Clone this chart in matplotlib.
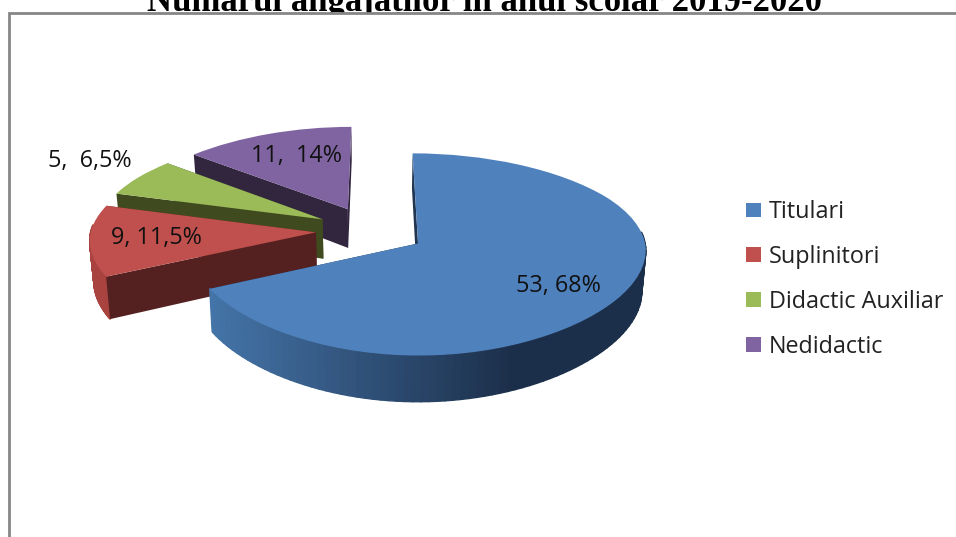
import numpy as np
import matplotlib
matplotlib.use("Agg")
import matplotlib.pyplot as plt
from matplotlib.collections import PolyCollection
from matplotlib.colors import to_rgb
from matplotlib.patches import Patch, Rectangle
from matplotlib.transforms import Transform

categories = ["Titulari", "Suplinitori", "Didactic Auxiliar", "Nedidactic"]
counts = [53, 9, 5, 11]
labels = ["53, 68%", "9, 11,5%", "5,  6,5%", "11,  14%"]
title = "Numărul angajaților în anul școlar 2019-2020"

colors = ["#4F81BD", "#C0504D", "#9BBB59", "#8064A2"]
cut_colors = ["#1f3550", "#552120", "#3F4A1F", "#32263F"]
rim_colors = ["#3F6A9C", "#A8433F", "#6E8A3A", "#5A4676"]
label_xy = [(558, 286), (156, 238), (90, 161), (297, 156)]

CX, CY = 371, 230.4
RX, RY, P = 225, 98.2, 0.112


def project(xy, depth=False):
    # unit pie coordinates -> image pixels, with the back of the pie squeezed
    x, y = xy[:, 0], xy[:, 1]
    px = CX + RX * x * (1 - 0.08 * y - 0.05 * y ** 2)
    py = CY - RY * y * (1 - P * y)
    if depth:
        px = CX + (px - CX) * 0.985
        py = py + 40 - 5.5 * y
    return np.column_stack([px, py])


class Tilt(Transform):
    input_dims = 2
    output_dims = 2

    def transform_non_affine(self, values):
        return project(np.asarray(values, dtype=float))


fig = plt.figure(figsize=(9.56, 5.37), dpi=100)
ax = fig.add_axes([0, 0, 1, 1])

wedges, _ = ax.pie(counts, colors=colors, explode=[0.245] * 4, startangle=90,
                   counterclock=False, wedgeprops={"linewidth": 0})
ax.set_aspect("auto")
ax.set_xlim(0, 956)
ax.set_ylim(537, 0)
ax.axis("off")

ax.text(484.5, 10, title, family="Liberation Serif", weight="bold", fontsize=25,
        ha="center", va="baseline", zorder=0, clip_on=False)
ax.add_patch(Rectangle((9, 12.5), 1000, 1000, facecolor="white", edgecolor="#868686",
                       linewidth=2, zorder=0.5))

tilt = Tilt()
for i, w in enumerate(wedges):
    z = 5 - i  # purple at the back, blue in front
    c = np.array(w.center)
    w.set_transform(tilt + ax.transData)
    w.set_zorder(z + 0.5)
    w.set_clip_on(False)

    # rim, one thin strip per step so the shading can vary
    th = np.radians(np.linspace(w.theta1, w.theta2, 121))
    edge = c + np.column_stack([np.cos(th), np.sin(th)])
    top = project(edge)
    bottom = project(edge, depth=True)
    polys, fills = [], []
    for k in range(len(th) - 1):
        if np.sin(th[k]) > 0.08:  # back of the pie, hidden anyway
            continue
        polys.append([top[k], top[k + 1], bottom[k + 1], bottom[k]])
        if i == 0:
            t = np.clip((top[k, 0] - 210) / 300, 0, 1)
            fills.append(tuple((1 - t) * np.array(to_rgb("#4474A8")) + t * np.array(to_rgb("#1C2F4A"))))
        else:
            fills.append(rim_colors[i])
    if polys:
        ax.add_collection(PolyCollection(polys, facecolors=fills, edgecolors=fills,
                                         linewidths=1.0, zorder=z + 0.2))

    # the two cut faces, blue's must stay under its rim
    for end in (0, -1):
        pts = np.array([c, edge[end]])
        a, b = project(pts), project(pts, depth=True)
        ax.fill([a[0, 0], a[1, 0], b[1, 0], b[0, 0]], [a[0, 1], a[1, 1], b[1, 1], b[0, 1]],
                color=cut_colors[i], lw=0, zorder=z if i == 0 else z + 0.3)

for text, (x, y) in zip(labels, label_xy):
    ax.text(x, y, text, family="Open Sans", fontsize=16.8, color="#111111",
            ha="center", va="center", zorder=10)

handles = [Patch(facecolor=col, edgecolor="none") for col in colors]
fig.legend(handles, categories, loc="center left", bbox_to_anchor=(746 / 956, 1 - 279.5 / 537),
           frameon=False, prop={"family": "Open Sans", "size": 16.8},
           labelspacing=0.893, handlelength=0.65, handleheight=0.6, handletextpad=0.34,
           borderpad=0, borderaxespad=0, labelcolor="#222222")

fig.savefig("out.png", dpi=100)
